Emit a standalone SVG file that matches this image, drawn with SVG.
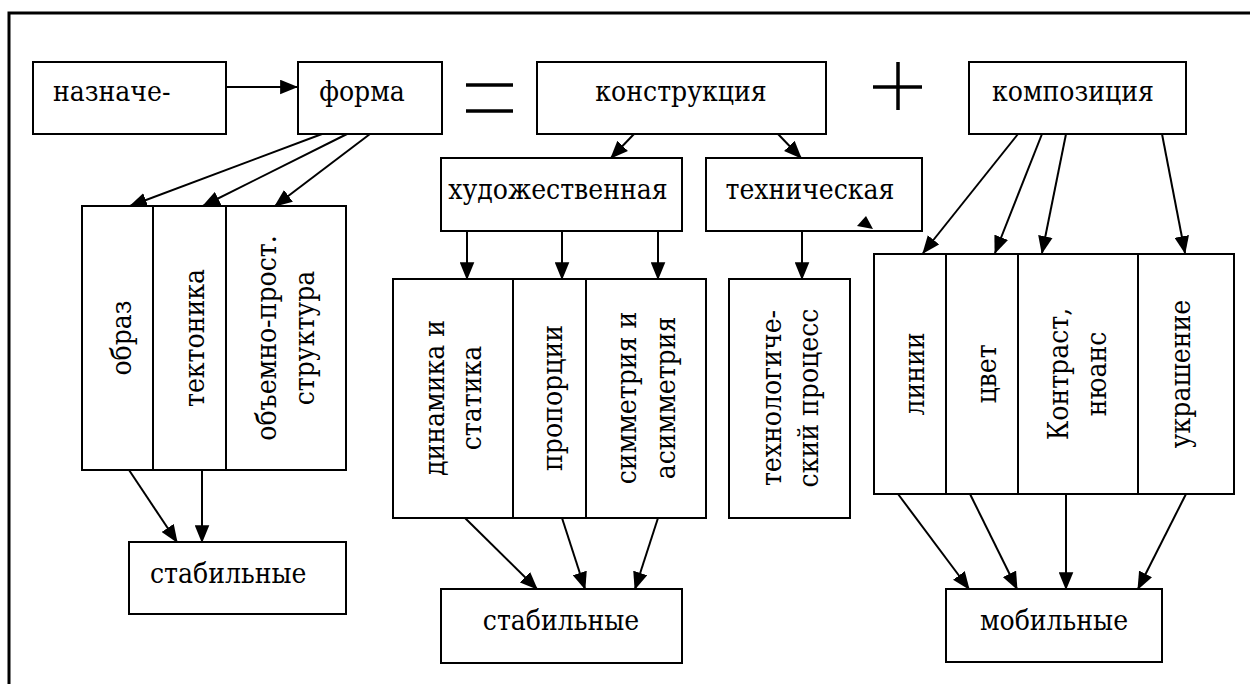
<svg xmlns="http://www.w3.org/2000/svg" width="1250" height="684" viewBox="0 0 1250 684">
<style>
.b{fill:#fff;stroke:#000;stroke-width:2}
text{font-family:'DejaVu Serif Condensed','DejaVu Serif',serif;font-size:28px;fill:#000}
.m{text-anchor:middle}
.c line{stroke:#000;stroke-width:2;marker-end:url(#ah)}
</style>
<defs>
<marker id="ah" viewBox="0 0 16 13" refX="15" refY="6.5" markerWidth="18" markerHeight="15" markerUnits="userSpaceOnUse" orient="auto">
<path d="M0,0 L16,6.5 L0,13 z" fill="#000"/>
</marker>
</defs>
<rect width="1250" height="684" fill="#fff"/>
<path d="M9,700 V13 H1250" fill="none" stroke="#000" stroke-width="3"/>
<g id="op-eq"><line x1="466" y1="85" x2="513" y2="85" stroke="#000" stroke-width="3.5"/><line x1="466" y1="111" x2="513" y2="111" stroke="#000" stroke-width="3.5"/></g>
<g id="op-plus"><line x1="873" y1="87" x2="922" y2="87" stroke="#000" stroke-width="3.5"/><line x1="898" y1="62" x2="898" y2="110" stroke="#000" stroke-width="3.5"/></g>
<g id="naznache"><rect class="b" x="33" y="62" width="193" height="72"/><text x="53" y="101">назначе-</text></g>
<g id="forma"><rect class="b" x="298" y="62" width="144" height="72"/><text class="m" x="362" y="101">форма</text></g>
<g id="konstrukciya"><rect class="b" x="537" y="62" width="289" height="72"/><text class="m" x="681" y="101">конструкция</text></g>
<g id="kompoziciya"><rect class="b" x="969" y="62" width="217" height="72"/><text class="m" x="1073" y="101">композиция</text></g>
<g id="hudozh"><rect class="b" x="441" y="158" width="241" height="73"/><text class="m" x="558" y="199">художественная</text></g>
<g id="tehnich"><rect class="b" x="706" y="158" width="216" height="73"/><text class="m" x="810" y="199">техническая</text><path d="M857,226 L866,216 L873,229 Z" fill="#000"/></g>
<g id="obraz"><rect class="b" x="82" y="206" width="71" height="264"/><text class="m" transform="translate(131,338) rotate(-90)">образ</text></g>
<g id="tektonika"><rect class="b" x="153" y="206" width="73" height="264"/><text class="m" transform="translate(204,338) rotate(-90)">тектоника</text></g>
<g id="obyemno"><rect class="b" x="226" y="206" width="120" height="264"/><text class="m" transform="translate(276,338) rotate(-90)">объемно-прост.</text><text class="m" transform="translate(314,338) rotate(-90)">структура</text></g>
<g id="dinamika"><rect class="b" x="393" y="279" width="120" height="239"/><text class="m" transform="translate(444,398) rotate(-90)">динамика и</text><text class="m" transform="translate(481,398) rotate(-90)">статика</text></g>
<g id="proporcii"><rect class="b" x="513" y="279" width="73" height="239"/><text class="m" transform="translate(562,398) rotate(-90)">пропорции</text></g>
<g id="simmetriya"><rect class="b" x="586" y="279" width="120" height="239"/><text class="m" transform="translate(636,398) rotate(-90)">симметрия и</text><text class="m" transform="translate(675,398) rotate(-90)">асимметрия</text></g>
<g id="tehnolog"><rect class="b" x="729" y="279" width="121" height="239"/><text class="m" transform="translate(781,398) rotate(-90)">технологиче-</text><text class="m" transform="translate(818,398) rotate(-90)">ский процесс</text></g>
<g id="linii"><rect class="b" x="874" y="254" width="72" height="240"/><text class="m" transform="translate(924,374) rotate(-90)">линии</text></g>
<g id="cvet"><rect class="b" x="946" y="254" width="72" height="240"/><text class="m" transform="translate(996,374) rotate(-90)">цвет</text></g>
<g id="kontrast"><rect class="b" x="1018" y="254" width="120" height="240"/><text class="m" transform="translate(1068,374) rotate(-90)">Контраст,</text><text class="m" transform="translate(1106,374) rotate(-90)">нюанс</text></g>
<g id="ukrashenie"><rect class="b" x="1138" y="254" width="96" height="240"/><text class="m" transform="translate(1190,374) rotate(-90)">украшение</text></g>
<g id="stab1"><rect class="b" x="129" y="542" width="217" height="72"/><text x="150" y="583">стабильные</text></g>
<g id="stab2"><rect class="b" x="441" y="589" width="241" height="74"/><text class="m" x="561" y="630">стабильные</text></g>
<g id="mobil"><rect class="b" x="946" y="589" width="216" height="73"/><text class="m" x="1054" y="630">мобильные</text></g>
<g id="connectors" class="c">
<line x1="226" y1="87" x2="297" y2="87"/>
<line x1="322" y1="134" x2="130" y2="206"/>
<line x1="347" y1="134" x2="203" y2="206"/>
<line x1="370" y1="134" x2="275" y2="206"/>
<line x1="634" y1="134" x2="611" y2="158"/>
<line x1="778" y1="134" x2="801" y2="158"/>
<line x1="1018" y1="134" x2="923" y2="253"/>
<line x1="1042" y1="134" x2="995" y2="253"/>
<line x1="1066" y1="134" x2="1042" y2="253"/>
<line x1="1162" y1="134" x2="1185" y2="253"/>
<line x1="467" y1="231" x2="467" y2="279"/>
<line x1="562" y1="231" x2="562" y2="279"/>
<line x1="658" y1="231" x2="658" y2="279"/>
<line x1="802" y1="231" x2="802" y2="279"/>
<line x1="129" y1="470" x2="177" y2="542"/>
<line x1="202" y1="470" x2="202" y2="542"/>
<line x1="465" y1="518" x2="537" y2="589"/>
<line x1="562" y1="518" x2="585" y2="589"/>
<line x1="658" y1="518" x2="635" y2="589"/>
<line x1="898" y1="494" x2="969" y2="589"/>
<line x1="970" y1="494" x2="1017" y2="589"/>
<line x1="1066" y1="494" x2="1066" y2="589"/>
<line x1="1186" y1="494" x2="1138" y2="589"/>
</g>
</svg>
